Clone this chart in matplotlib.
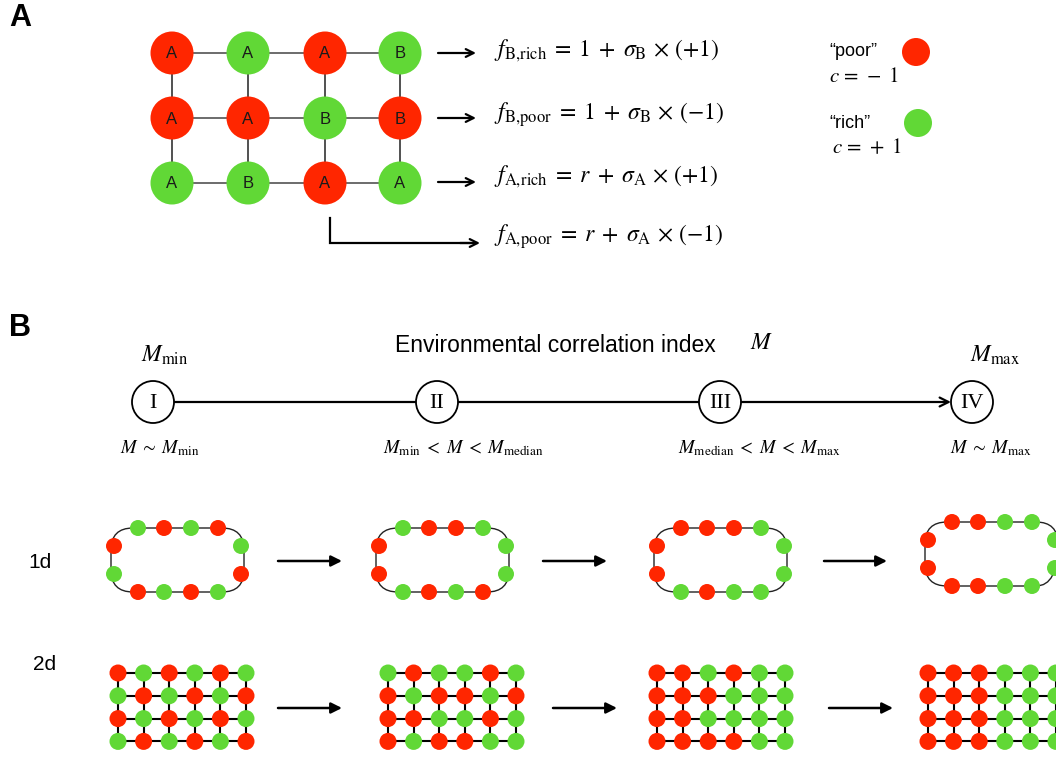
import matplotlib

matplotlib.use("Agg")
import matplotlib.pyplot as plt
from matplotlib.patches import Circle, FancyArrowPatch, FancyBboxPatch

plt.rcParams["mathtext.fontset"] = "stix"
plt.rcParams["font.family"] = ["Liberation Sans", "DejaVu Sans"]

RED = "#ff2600"
GREEN = "#61d836"
COLORS = {"R": RED, "G": GREEN}

# Panel A: species on a 3x4 lattice and the environment at each site
SPECIES = ["AAAB", "AABB", "ABAA"]
ENV = ["RGRG", "RRGR", "GGRG"]
FITNESS = [
    r"$f_{\mathrm{B,\!rich}}\;=\;1\;+\;\sigma_{\mathrm{B}}\,\times\,(+1)$",
    r"$f_{\mathrm{B,\!poor}}\;=\;1\;+\;\sigma_{\mathrm{B}}\,\times\,(-1)$",
    r"$f_{\mathrm{A,\!rich}}\;=\;r\;+\;\sigma_{\mathrm{A}}\,\times\,(+1)$",
    r"$f_{\mathrm{A,\!poor}}\;=\;r\;+\;\sigma_{\mathrm{A}}\,\times\,(-1)$",
]
LEGEND_NAMES = ["\u201cpoor\u201d", "\u201crich\u201d"]
LEGEND_C = [r"$c\,=\,-\;1$", r"$c\,=\,+\;1$"]
LEGEND_COLORS = ["R", "G"]

# Panel B: stages along the environmental correlation index
STAGES = ["I", "II", "III", "IV"]
STAGE_TOP = [r"$M_{\mathrm{min}}$", "", "", r"$M_{\mathrm{max}}$"]
STAGE_BOTTOM = [
    r"$M\;\sim\;M_{\mathrm{min}}$",
    r"$M_{\mathrm{min}}\;<\;M\;<\;M_{\mathrm{median}}$",
    r"$M_{\mathrm{median}}\;<\;M\;<\;M_{\mathrm{max}}$",
    r"$M\;\sim\;M_{\mathrm{max}}$",
]

# 1d rings: (top L->R, right T->B, bottom L->R, left T->B)
RINGS = [
    ("GRGR", "GR", "RGRG", "RG"),
    ("GRRG", "GG", "GRGR", "RR"),
    ("RRRG", "GG", "GRGG", "RR"),
    ("RRGG", "GG", "RRGG", "RR"),
]

# 2d lattices, one string per row
GRIDS = [
    ["RGRGRG", "GRGRGR", "RGRGRG", "GRGRGR"],
    ["GRGGRG", "RGRRGR", "RRGGRG", "RGRRGG"],
    ["RRGRGG", "RRRGGG", "RRGGGG", "RRRRGG"],
    ["RRRGGG", "RRRGGG", "RRRGGG", "RRRGGG"],
]

fig = plt.figure(figsize=(10.56, 7.58), dpi=100)
ax = fig.add_axes([0, 0, 1, 1])
ax.set_xlim(0, 1056)
ax.set_ylim(758, 0)
ax.axis("off")


def arrow(x0, y0, x1, y1, style="-|>", lw=1.6, ms=14):
    ax.add_patch(FancyArrowPatch((x0, y0), (x1, y1), arrowstyle=style,
                                 mutation_scale=ms, lw=lw, color="black",
                                 shrinkA=0, shrinkB=0))


# ---- panel A ----
ax.text(9, 18, "A", fontsize=22, fontweight="bold", va="center", ha="left")

a_xs = [172, 248, 325, 400]
a_ys = [53, 118, 183]
for y in a_ys:
    ax.plot([a_xs[0], a_xs[-1]], [y, y], color="#444444", lw=1.1, zorder=1)
for x in a_xs:
    ax.plot([x, x], [a_ys[0], a_ys[-1]], color="#222222", lw=1.1, zorder=1)
for i, y in enumerate(a_ys):
    for j, x in enumerate(a_xs):
        ax.add_patch(Circle((x, y), 21.5, color=COLORS[ENV[i][j]], lw=0, zorder=2))
        ax.text(x, y + 1, SPECIES[i][j], fontsize=12, ha="center", va="center",
                color="#1a1a1a", zorder=3)

eq_ys = [51, 115, 177, 237]
arrow_ys = [53, 118, 182]
for y in arrow_ys:
    arrow(438, y, 476, y, style="->", lw=1.6, ms=14)
# L-shaped connector from the bottom A site
ax.plot([330, 330, 470], [218, 243, 243], color="black", lw=1.6,
        solid_joinstyle="miter")
arrow(460, 243, 480, 243, style="->", lw=1.6, ms=14)
for y, eq in zip(eq_ys, FITNESS):
    ax.text(494, y, eq, fontsize=17, ha="left", va="center")

for k, (name, ctext, col) in enumerate(zip(LEGEND_NAMES, LEGEND_C, LEGEND_COLORS)):
    y0 = 52 + 71 * k
    ax.text(829, y0, name, fontsize=13, ha="left", va="center")
    ax.text(829 + 3 * k, y0 + 24, ctext, fontsize=15, ha="left", va="center")
    ax.add_patch(Circle((916 + 2 * k, y0), 14, color=COLORS[col], lw=0))

# ---- panel B ----
ax.text(9, 328, "B", fontsize=22, fontweight="bold", va="center", ha="left")
ax.text(555, 345, "Environmental correlation index", fontsize=16.5,
        ha="center", va="center")
ax.text(762, 343, r"$M$", fontsize=17, ha="center", va="center")

st_xs = [153, 437, 720, 972]
top_xs = [165, 0, 0, 995]
bottom_xs = [120, 383, 678, 950]
st_y = 402
arrow(st_xs[0] + 21, st_y, st_xs[-1] - 21, st_y, style="->", lw=1.6, ms=16)
for x, tx, bx, lab, top, bot in zip(st_xs, top_xs, bottom_xs, STAGES,
                                    STAGE_TOP, STAGE_BOTTOM):
    ax.add_patch(Circle((x, st_y), 21, facecolor="white", edgecolor="black",
                        lw=1.3, zorder=3))
    ax.text(x, st_y + 1, lab, fontsize=16, ha="center", va="center",
            family="Liberation Serif", zorder=4)
    if top:
        ax.text(tx, 355, top, fontsize=17, ha="center", va="center")
    ax.text(bx, 448, bot, fontsize=13.5, ha="left", va="center")

ax.text(40, 562, "1d", fontsize=15, ha="center", va="center")
ax.text(45, 664, "2d", fontsize=15, ha="center", va="center")

# 1d rings
ring_lefts = [114, 379, 657, 928]
ring_tops = [528, 528, 528, 522]
ring_w, ring_h = 127, 64
top_dx = [24, 50, 77, 104]
side_dy = [18, 46]
for left, top, (t, r, b, l) in zip(ring_lefts, ring_tops, RINGS):
    ax.add_patch(FancyBboxPatch((left - 3, top), ring_w + 6, ring_h,
                                boxstyle="round,pad=0,rounding_size=22",
                                fill=False, edgecolor="#222222", lw=1.0, zorder=1))
    pts = []
    pts += [(left + dx, top, c) for dx, c in zip(top_dx, t)]
    pts += [(left + ring_w, top + dy, c) for dy, c in zip(side_dy, r)]
    pts += [(left + dx, top + ring_h, c) for dx, c in zip(top_dx, b)]
    pts += [(left, top + dy, c) for dy, c in zip(side_dy, l)]
    for x, y, c in pts:
        ax.add_patch(Circle((x, y), 8, color=COLORS[c], lw=0, zorder=2))

for x0, x1 in [(278, 342), (543, 607), (824, 887)]:
    arrow(x0, 561, x1, 561, style="-|>", lw=1.8, ms=16)

# 2d lattices
grid_lefts = [118, 388, 657, 928]
grid_top = 673
dx, dy = 25.6, 22.8
for left, grid in zip(grid_lefts, GRIDS):
    nr, nc = len(grid), len(grid[0])
    for i in range(nr):
        y = grid_top + i * dy
        ax.plot([left, left + (nc - 1) * dx], [y, y], color="black", lw=1.5, zorder=1)
    for j in range(nc):
        x = left + j * dx
        ax.plot([x, x], [grid_top, grid_top + (nr - 1) * dy], color="black",
                lw=1.5, zorder=1)
    for i, row in enumerate(grid):
        for j, c in enumerate(row):
            ax.add_patch(Circle((left + j * dx, grid_top + i * dy), 8.5,
                                color=COLORS[c], lw=0, zorder=2))

for x0, x1 in [(278, 342), (553, 617), (829, 893)]:
    arrow(x0, 708, x1, 708, style="-|>", lw=1.8, ms=16)

fig.savefig("out.png", dpi=100)
